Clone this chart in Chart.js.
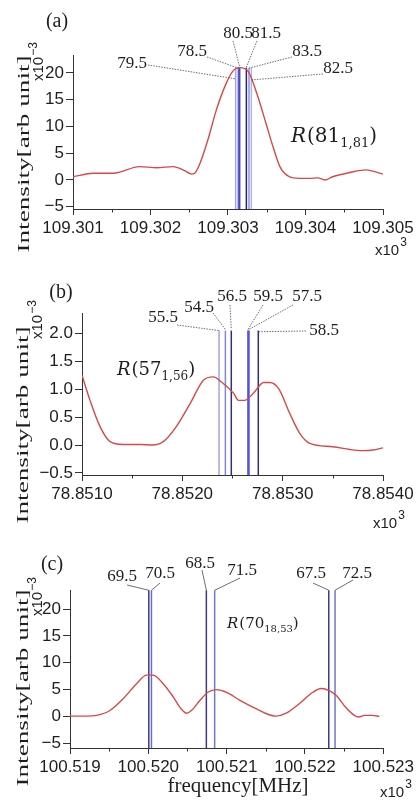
<!DOCTYPE html>
<html>
<head>
<meta charset="utf-8">
<script src="https://cdn.jsdelivr.net/npm/chart.js@4.4.0/dist/chart.umd.min.js"></script>
<style>
    html, body { margin: 0; padding: 0; background: #fff; }
    #wrap { position: relative; width: 417px; height: 805px; overflow: hidden; }
    canvas { position: absolute; left: 0; }
</style>
</head>
<body>
<div id="wrap">
    <canvas id="chartA" width="417" height="262" style="top:0px"></canvas>
    <canvas id="chartB" width="417" height="270" style="top:262px"></canvas>
    <canvas id="chartC" width="417" height="273" style="top:532px"></canvas>
</div>
<script>

// ---- panel (a) data ----
var freqA = [109.30100, 109.30126, 109.30152, 109.30186, 109.30208, 109.30229, 109.30244, 109.30253, 109.30257,
    109.30263, 109.30274, 109.30285, 109.30296, 109.30306, 109.30315, 109.30326, 109.30337, 109.30349, 109.30358,
    109.30367, 109.30373, 109.30384, 109.30405, 109.30416, 109.30425, 109.30435, 109.30457, 109.30478, 109.30500];
var intensityA = [0.6, 1.25, 1.25, 2.5, 2.3, 2.5, 1.75, 1.1, 1.25,
    2.8, 7.5, 13.1, 17.5, 20.3, 21.0, 20.3, 16.25, 10.6, 6.25,
    2.5, 1.25, 0.4, 0.3, 0.4, 0.0, 0.6, 1.4, 1.9, 1.1];
var linesA = [109.303099, 109.303134, 109.303151, 109.303237, 109.303271, 109.303301];
var lineNamesA = ['79.5', '78.5', '80.5', '81.5', '83.5', '82.5'];
var lineTopA = 21;
var xTicksA = [109.301, 109.302, 109.303, 109.304, 109.305];
var yTicksA = [-5, 0, 5, 10, 15, 20];

// ---- panel (b) data ----
var freqB = [78.85100, 78.85108, 78.85118, 78.85128, 78.85141, 78.85158, 78.85170, 78.85181, 78.85194, 78.85208,
    78.85221, 78.85231, 78.85239, 78.85251, 78.85256, 78.85262, 78.85271, 78.85281, 78.85287, 78.85296,
    78.85307, 78.85317, 78.85327, 78.85350, 78.85367, 78.85380, 78.85390, 78.85400];
var intensityB = [1.25, 0.8, 0.33, 0.06, 0.01, 0.01, 0.0, 0.06, 0.33, 0.75,
    1.16, 1.22, 1.13, 0.93, 0.8, 0.8, 0.93, 1.12, 1.12, 1.01,
    0.57, 0.21, 0.03, -0.03, -0.08, -0.1, -0.09, -0.05];
var linesB = [78.852366, 78.852429, 78.852488, 78.852654, 78.852664, 78.852757];
var lineNamesB = ['55.5', '54.5', '56.5', '59.5', '57.5', '58.5'];
var lineTopB = 2.05;
var xTicksB = [78.851, 78.852, 78.853, 78.854];
var yTicksB = [-0.5, 0, 0.5, 1.0, 1.5, 2.0];

// ---- panel (c) data ----
var freqC = [100.51900, 100.51921, 100.51934, 100.51951, 100.51968, 100.51985, 100.51998, 100.52006, 100.52019,
    100.52032, 100.52042, 100.52049, 100.52055, 100.52066, 100.52076, 100.52087, 100.52100, 100.52117, 100.52138,
    100.52151, 100.52163, 100.52176, 100.52193, 100.52210, 100.52221, 100.52231, 100.52240, 100.52252, 100.52263,
    100.52269, 100.52276, 100.52286, 100.52295];
var intensityC = [0.06, 0.06, 0.2, 1.1, 3.3, 6.1, 7.7, 7.7, 6.1,
    3.6, 1.4, 0.6, 1.1, 3.0, 4.5, 5.0, 4.5, 3.0, 1.4,
    0.5, 0.06, 0.6, 2.4, 4.5, 5.2, 4.8, 3.9, 1.7, 0.2,
    -0.1, 0.2, 0.2, 0.0];
var linesC = [100.5200064, 100.520040, 100.520741, 100.520847, 100.522304, 100.522384];
var lineNamesC = ['69.5', '70.5', '68.5', '71.5', '67.5', '72.5'];
var lineTopC = 23.5;
var xTicksC = [100.519, 100.520, 100.521, 100.522, 100.523];
var yTicksC = [-5, 0, 5, 10, 15, 20];

// ---- styles / layout ----
var curveColor = '#d84848';
var axisColor = '#333';
var textColor = '#1e1e1e';
var sansFont = '"Liberation Sans", Arial, sans-serif';
var serifFont = '"Liberation Serif", "Times New Roman", serif';
var mathFont = '"DejaVu Serif", serif';

var panelA = {
    id: 'chartA', freq: freqA, intensity: intensityA, lines: linesA, names: lineNamesA, lineTop: lineTopA,
    xTicks: xTicksA, yTicks: yTicksA, xDigits: 3, yDigits: 0,
    yMin: -5.42, yMax: 23.36,
    padding: {left: 23, top: 55, right: 34, bottom: 18},
    lineColors: ['#a4aae0', '#5a5ccc', '#4a4ab8', '#262670', '#8c94dc', '#b0b6e8'],
    leaderDash: [1.5, 1.2],
    // label centre x,y / leader start x,y / leader end value
    labels: [[132, 64, 148, 65, 18.9], [192, 52, 207, 57, 20.9], [238, 34, 233, 41, 21.1],
        [266, 34, 257, 41, 21.1], [307, 52, 292, 57, 20.9], [338, 69, 323, 74, 18.7]],
    letter: ['(a)', 57, 22],
    rLabel: ['81', '1,81', 291, 142, 20],
    yTitle: [25, 154],
    yExp: [43, 81],
    xExp: [375, 255],
    xTitle: null
};

var panelB = {
    id: 'chartB', freq: freqB, intensity: intensityB, lines: linesB, names: lineNamesB, lineTop: lineTopB,
    xTicks: xTicksB, yTicks: yTicksB, xDigits: 4, yDigits: 1,
    yMin: -0.537, yMax: 2.365,
    padding: {left: 32, top: 51, right: 34, bottom: 22},
    lineColors: ['#a0a6de', '#8088d2', '#30307a', '#4a4ad8', '#4a4ad8', '#2e2e70'],
    leaderDash: [1.5, 1.2],
    labels: [[163, 56, 177, 63, 2.05], [199, 46, 213, 51, 2.07], [232, 35, 230, 43, 2.07],
        [268, 35, 263, 43, 2.07], [307, 35, 293, 43, 2.07], [324, 69, 306, 69, 2.03]],
    letter: ['(b)', 61, 31],
    rLabel: ['57', '1,56', 117, 113, 18],
    yTitle: [24, 163],
    yExp: [42, 77],
    xExp: [373, 266],
    xTitle: null
};

var panelC = {
    id: 'chartC', freq: freqC, intensity: intensityC, lines: linesC, names: lineNamesC, lineTop: lineTopC,
    xTicks: xTicksC, yTicks: yTicksC, xDigits: 3, yDigits: 0,
    yMin: -5.88, yMax: 23.55,
    padding: {left: 20, top: 58, right: 33, bottom: 22},
    lineColors: ['#3a3a8a', '#6a70c8', '#3a3a8a', '#7078c8', '#3a3a8a', '#7078c8'],
    leaderDash: [],
    labels: [[122, 45, 127, 53, 23.5], [160, 42, 160, 51, 23.5], [200, 32, 202, 38, 23.5],
        [242, 39, 240, 46, 23.5], [311, 42, 313, 51, 23.5], [357, 42, 353, 48, 23.5]],
    letter: ['(c)', 52, 33],
    rLabel: ['70', '18,53', 227, 96, 15],
    yTitle: [24, 156],
    yExp: [42, 84],
    xExp: [380, 265],
    xTitle: ['frequency[MHz]', 238, 260]
};

function fmtNum(v, digits) {
    var s = Math.abs(v).toFixed(digits);
    return v < -1e-9 ? '\u2212' + s : s;
}

// text, leader lines, minor ticks
var decorPlugin = {
    id: 'decor',
    afterDraw: function (chart) {
        var p = chart.options.plugins.decor.panel;
        var ctx = chart.ctx;
        var xs = chart.scales.x, ys = chart.scales.y;
        var area = chart.chartArea;

        ctx.save();
        ctx.fillStyle = textColor;

        // minor ticks on the x axis
        ctx.strokeStyle = axisColor;
        ctx.lineWidth = 1;
        for (var i = 0; i < p.xTicks.length - 1; i++) {
            var mx = Math.round(xs.getPixelForValue((p.xTicks[i] + p.xTicks[i + 1]) / 2)) + 0.5;
            ctx.beginPath();
            ctx.moveTo(mx, area.bottom);
            ctx.lineTo(mx, area.bottom + 3.5);
            ctx.stroke();
        }

        // leader lines + labels
        ctx.strokeStyle = '#4a4a4a';
        ctx.lineWidth = 0.8;
        ctx.setLineDash(p.leaderDash);
        p.labels.forEach(function (l, k) {
            var ex = xs.getPixelForValue(p.lines[k]);
            var ey = ys.getPixelForValue(l[4]);
            ctx.beginPath();
            ctx.moveTo(l[2], l[3]);
            ctx.lineTo(ex, ey);
            ctx.stroke();
        });
        ctx.setLineDash([]);
        ctx.font = '17px ' + serifFont;
        ctx.textAlign = 'center';
        ctx.textBaseline = 'middle';
        p.labels.forEach(function (l, k) {
            ctx.fillText(p.names[k], l[0], l[1]);
        });

        // panel letter
        ctx.font = '20px ' + serifFont;
        ctx.fillText(p.letter[0], p.letter[1], p.letter[2]);

        // R(J_Ka,Kc)
        var r = p.rLabel, x = r[2], y = r[3], size = r[4];
        ctx.textAlign = 'left';
        ctx.textBaseline = 'alphabetic';
        ctx.font = 'italic ' + size + 'px ' + mathFont;
        ctx.fillText('R', x, y);
        x += ctx.measureText('R').width + 1;
        ctx.font = size + 'px ' + mathFont;
        ctx.fillText('(' + r[0], x, y);
        x += ctx.measureText('(' + r[0]).width;
        ctx.font = Math.round(size * 0.66) + 'px ' + mathFont;
        ctx.fillText(r[1], x, y + size * 0.25);
        x += ctx.measureText(r[1]).width;
        ctx.font = size + 'px ' + mathFont;
        ctx.fillText(')', x, y);

        // y axis title (stretched along its length like the original)
        ctx.save();
        ctx.translate(p.yTitle[0], p.yTitle[1]);
        ctx.rotate(-Math.PI / 2);
        ctx.scale(1.7, 1);
        ctx.font = '16px ' + serifFont;
        ctx.textAlign = 'center';
        ctx.textBaseline = 'middle';
        ctx.fillText('Intensity[arb unit]', 0, 0);
        ctx.restore();

        // x10^-3 on the y axis
        ctx.save();
        ctx.translate(p.yExp[0], p.yExp[1]);
        ctx.rotate(-Math.PI / 2);
        ctx.font = '15px ' + sansFont;
        ctx.fillText('x10', 0, 0);
        var w = ctx.measureText('x10').width;
        ctx.font = '12px ' + sansFont;
        ctx.fillText('\u22123', w + 1, -6);
        ctx.restore();

        // x10^3 under the x axis
        ctx.font = '15px ' + sansFont;
        ctx.fillText('x10', p.xExp[0], p.xExp[1]);
        w = ctx.measureText('x10').width;
        ctx.font = '12px ' + sansFont;
        ctx.fillText('3', p.xExp[0] + w + 1, p.xExp[1] - 9);

        if (p.xTitle) {
            ctx.font = '21px ' + serifFont;
            ctx.textAlign = 'center';
            ctx.fillText(p.xTitle[0], p.xTitle[1], p.xTitle[2]);
        }
        ctx.restore();
    }
};

function buildPanel(p) {
    var datasets = [];
    datasets.push({
        data: p.freq.map(function (f, i) {
            return {x: f, y: p.intensity[i]};
        }),
        showLine: true,
        borderColor: curveColor,
        borderWidth: 1.4,
        pointRadius: 0,
        cubicInterpolationMode: 'monotone'
    });
    p.lines.forEach(function (f, i) {
        datasets.push({
            data: [{x: f, y: p.yMin}, {x: f, y: p.lineTop}],
            showLine: true,
            borderColor: p.lineColors[i],
            borderWidth: 1.5,
            pointRadius: 0
        });
    });

    return new Chart(document.getElementById(p.id), {
        type: 'scatter',
        data: {datasets: datasets},
        options: {
            responsive: false,
            animation: false,
            layout: {padding: p.padding},
            plugins: {legend: {display: false}, tooltip: {enabled: false}, decor: {panel: p}},
            scales: {
                x: {
                    type: 'linear',
                    min: p.xTicks[0],
                    max: p.xTicks[p.xTicks.length - 1],
                    afterBuildTicks: function (s) {
                        s.ticks = p.xTicks.map(function (v) { return {value: v}; });
                    },
                    afterFit: function (s) { s.height = 35; },
                    ticks: {
                        callback: function (v) { return fmtNum(v, p.xDigits); },
                        font: {family: sansFont, size: 17},
                        color: textColor,
                        padding: 3,
                        maxRotation: 0,
                        autoSkip: false
                    },
                    grid: {drawOnChartArea: false, drawTicks: true, tickLength: 6, color: axisColor},
                    border: {color: axisColor, width: 1}
                },
                y: {
                    min: p.yMin,
                    max: p.yMax,
                    afterBuildTicks: function (s) {
                        s.ticks = p.yTicks.map(function (v) { return {value: v}; });
                    },
                    afterFit: function (s) { s.width = 50; },
                    ticks: {
                        callback: function (v) { return fmtNum(v, p.yDigits); },
                        font: {family: sansFont, size: 17},
                        color: textColor,
                        padding: 2
                    },
                    grid: {drawOnChartArea: false, drawTicks: true, tickLength: 7, color: axisColor},
                    border: {color: axisColor, width: 1}
                }
            }
        },
        plugins: [decorPlugin]
    });
}

buildPanel(panelA);
buildPanel(panelB);
buildPanel(panelC);

</script>
</body>
</html>
